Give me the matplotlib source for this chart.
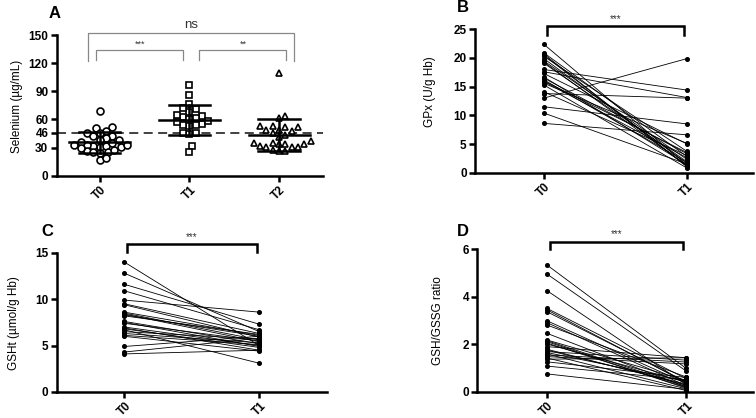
import numpy as np
import matplotlib
matplotlib.use("Agg")
import matplotlib.pyplot as plt

plt.rcParams['font.family'] = ['Liberation Sans', 'DejaVu Sans']

W, H = 756, 418

# ---------------- data ----------------
groups_A = ["T0", "T1", "T2"]
se_T0 = [69, 52, 51, 48, 46, 45, 42, 42, 40, 38, 38, 33, 31, 32, 32, 33, 31, 33,
         25, 24, 27, 26, 25, 17, 18.5, 36, 35, 29]
se_T1 = [97, 86, 76, 67.5, 71, 72, 63, 64, 65, 62, 53, 55, 54, 54, 45, 44, 46,
         31.6, 25, 58, 60, 57]
se_T2 = [109, 63.6, 61, 53, 51.5, 53, 52, 49, 48, 48.7, 46, 43, 41.6, 35, 34, 37,
         35, 34, 34, 31, 31.6, 31, 31, 26.7, 26.7, 27.4]
se_ref = 46
se_yticks = [0, 30, 46, 60, 90, 120, 150]

pair_labels = ["T0", "T1"]
gpx_T0 = [22.4, 20.9, 20.7, 20.3, 19.9, 19.5, 19.1, 18.0, 17.6, 17.3, 16.7, 16.5,
          16.2, 15.9, 15.6, 15.3, 14.1, 13.8, 13.0, 11.5, 10.4, 8.6, 20.5, 19.3, 16.0]
gpx_T1 = [1.3, 2.8, 1.0, 3.7, 1.6, 2.3, 1.9, 14.4, 13.1, 5.0, 1.4, 3.3,
          1.8, 2.6, 5.1, 0.8, 3.0, 13.0, 19.9, 8.5, 1.5, 6.6, 1.1, 1.2, 3.5]

gsh_T0 = [14.0, 12.8, 11.6, 10.9, 9.9, 9.5, 9.4, 8.6, 8.5, 8.4, 8.3, 7.6, 7.4, 7.5,
          6.9, 6.7, 6.5, 6.3, 6.1, 6.0, 4.9, 4.3, 4.1, 8.2, 6.8, 7.0]
gsh_T1 = [5.0, 6.5, 7.3, 6.7, 8.6, 6.3, 5.9, 6.1, 5.6, 5.4, 6.0, 5.2, 5.5,
          4.9, 4.5, 3.1, 5.7, 5.3, 5.1, 4.4, 6.0, 5.8, 4.5, 6.2, 4.8, 5.0]

rat_T0 = [5.34, 4.96, 4.26, 3.51, 3.37, 2.99, 2.91, 2.81, 2.46, 2.18, 2.11, 2.01,
          1.90, 1.79, 1.69, 1.59, 1.48, 1.37, 1.26, 1.08, 0.75, 3.45, 2.15, 1.65,
          1.55, 1.42, 1.75, 2.05]
rat_T1 = [0.98, 0.87, 0.30, 0.55, 0.42, 0.35, 0.25, 0.62, 0.20, 0.48, 0.15, 0.40,
          1.43, 0.28, 1.33, 0.12, 1.17, 1.43, 0.60, 0.50, 0.10, 0.38, 0.22, 0.45,
          1.25, 0.05, 0.32, 0.18]

# ---------------- helpers ----------------
def box(l, t, r, b):
    return [l / W, 1 - b / H, (r - l) / W, (b - t) / H]

def style(ax, lw=1.8):
    for s in ["top", "right"]:
        ax.spines[s].set_visible(False)
    for s in ["left", "bottom"]:
        ax.spines[s].set_linewidth(lw)
    ax.tick_params(axis="both", width=lw, length=4, labelsize=8.5, pad=2)
    for lab in ax.get_yticklabels():
        lab.set_fontweight("bold")

def xlabels(ax, labels):
    ax.set_xticklabels(labels, rotation=45, ha="center", fontweight="bold",
                       fontsize=8.5)

def swarm(vals, diam, ppx_x, ppx_y):
    vals = np.asarray(vals, float)
    order = np.argsort(vals)
    placed = []
    offs = np.zeros(len(vals))
    step = diam / 3.0
    cands = [0.0]
    for k in range(1, 40):
        cands += [k * step, -k * step]
    for i in order:
        y = vals[i] * ppx_y
        for c in cands:
            if all((c - px) ** 2 + (y - py) ** 2 >= diam ** 2 for px, py in placed):
                break
        placed.append((c, y))
        offs[i] = c / ppx_x
    return offs

fig = plt.figure(figsize=(W / 100, H / 100), dpi=100)

# ---------------- Panel A ----------------
axA = fig.add_axes(box(56.7, 35, 323, 175.7))
axA.set_xlim(-0.48, 2.49)
axA.set_ylim(0, 150)
markers = ["o", "s", "^"]
ppx_x = 89.5
ppx_y = 140.7 / 150
for i, (vals, m) in enumerate(zip([se_T0, se_T1, se_T2], markers)):
    offs = swarm(vals, 6.3, ppx_x, ppx_y)
    axA.plot(i + offs, vals, linestyle="none", marker=m, markersize=5,
             markerfacecolor="white", markeredgecolor="black", mew=1.2, zorder=3)
    mu = np.mean(vals)
    sd = np.std(vals, ddof=1)
    axA.plot([i - 0.34, i + 0.34], [mu, mu], color="black", lw=1.8, zorder=4)
    axA.plot([i, i], [mu - sd, mu + sd], color="black", lw=1.8, zorder=4)
    for yy in (mu - sd, mu + sd):
        axA.plot([i - 0.23, i + 0.23], [yy, yy], color="black", lw=1.8, zorder=4)
axA.axhline(se_ref, color="#333333", lw=1.3, ls=(0, (5, 3)), zorder=2)
axA.set_yticks(se_yticks)
axA.set_xticks(range(len(groups_A)))
style(axA)
xlabels(axA, groups_A)
# brackets
bc = "#888888"
axA.plot([-0.13, -0.13, 2.17, 2.17], [122.6, 152.5, 152.5, 122.6], color=bc,
         lw=0.9, clip_on=False)
axA.text(1.02, 154.5, "ns", ha="center", va="bottom", fontsize=9.5, color="#333333")
axA.plot([-0.04, -0.04, 0.93, 0.93], [123, 134, 134, 123], color=bc, lw=0.9,
         clip_on=False)
axA.text(0.45, 135, "***", ha="center", va="bottom", fontsize=6.5, color="#333333")
axA.plot([1.11, 1.11, 2.08, 2.08], [123, 134, 134, 123], color=bc, lw=0.9,
         clip_on=False)
axA.text(1.6, 135, "**", ha="center", va="bottom", fontsize=6.5, color="#333333")

# ---------------- paired panels ----------------
def paired(ax, t0, t1, ylim, yticks, xlim, brk, brk_low, star_y):
    ax.set_xlim(*xlim)
    ax.set_ylim(*ylim)
    for a, b in zip(t0, t1):
        ax.plot([0, 1], [a, b], color="black", lw=0.6, zorder=2)
    ax.plot(np.zeros(len(t0)), t0, "o", color="black", markersize=2.6, zorder=3)
    ax.plot(np.ones(len(t1)), t1, "o", color="black", markersize=2.6, zorder=3)
    ax.set_yticks(yticks)
    ax.set_xticks([0, 1])
    style(ax)
    xlabels(ax, pair_labels)
    ax.plot([0.02, 0.02, 0.98, 0.98], [brk_low, brk, brk, brk_low], color="black",
            lw=1.8, clip_on=False, solid_joinstyle="miter")
    ax.text(0.5, star_y, "***", ha="center", va="bottom", fontsize=7,
            color="#333333")

axB = fig.add_axes(box(475, 29.3, 753, 172.7))
paired(axB, gpx_T0, gpx_T1, (0, 25), [0, 5, 10, 15, 20, 25], (-0.48, 1.46),
       25.5, 24.0, 25.9)

axC = fig.add_axes(box(56.7, 252.7, 326.7, 392))
paired(axC, gsh_T0, gsh_T1, (0, 15), [0, 5, 10, 15], (-0.50, 1.50),
       15.9, 15.05, 16.1)

axD = fig.add_axes(box(477.3, 249.3, 753, 391.7))
paired(axD, rat_T0, rat_T1, (0, 6), [0, 2, 4, 6], (-0.50, 1.48),
       6.32, 6.0, 6.42)

# ---------------- labels ----------------
def ftext(x, y, s, **kw):
    fig.text(x / W, 1 - y / H, s, **kw)

ftext(16.7, 106.7, "Selenium (\u00b5g/mL)", rotation=90, ha="center", va="center",
      fontsize=8.5)
ftext(430, 92, "GPx (U/g Hb)", rotation=90, ha="center", va="center", fontsize=8.5)
ftext(14, 323, "GSHt (\u00b5mol/g Hb)", rotation=90, ha="center", va="center",
      fontsize=8.5)
ftext(438, 321, "GSH/GSSG ratio", rotation=90, ha="center", va="center",
      fontsize=8.5)

for (x, y, s) in [(55, 14, "A"), (463, 8, "B"), (47, 232, "C"), (463, 231, "D")]:
    ftext(x, y, s, ha="center", va="center", fontsize=12, fontweight="bold")

fig.savefig("out.png", dpi=100)
